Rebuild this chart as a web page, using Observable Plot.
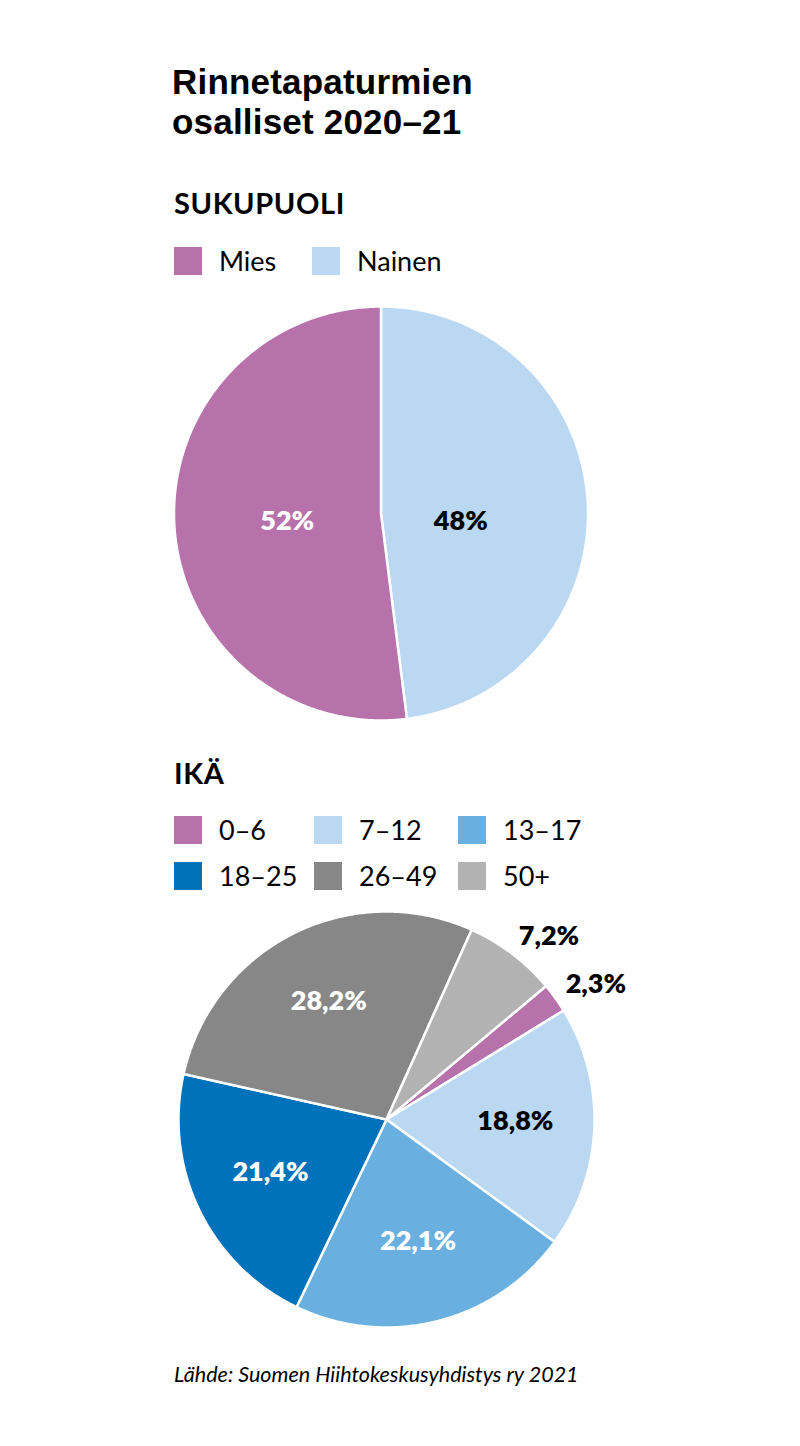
<!DOCTYPE html>
<html><head><meta charset="utf-8">
<script src="https://cdn.jsdelivr.net/npm/d3@7"></script>
<script src="https://cdn.jsdelivr.net/npm/@observablehq/plot@0.6"></script>
<style>
body{margin:0;background:#fff;font-family:Lato,"Open Sans",sans-serif;color:#000}
#root{position:relative;width:800px;height:1446px;overflow:hidden;background:#fff}
.abs{position:absolute;margin:0;white-space:nowrap}
.title{font-family:"Liberation Sans",Arial,sans-serif;font-size:35px;line-height:40px;height:40px;font-weight:700;left:172px;letter-spacing:0.2px}
h2.abs{font-size:29px;line-height:28px;font-weight:700;left:174px;letter-spacing:0.6px}
.item{display:flex;align-items:center;font-size:27px;line-height:28px;height:28px}
.sw{width:28px;height:28px;display:inline-block;margin-right:17px;flex:none}
.src{font-size:21.5px;line-height:24px;font-style:italic;left:174px;top:1362px}
</style></head>
<body><div id="root"></div>
<script>
// Sukupuoli (gender): slices drawn clockwise from 12 o'clock
const genderCats = ["Nainen", "Mies"];
const genderValues = [48, 52];
const genderLabels = ["48%", "52%"];
const genderColors = ["#bad8f1", "#b872ab"];
const genderLegend = ["Mies", "Nainen"];

// Ikä (age)
const ageCats = ["0–6", "7–12", "13–17", "18–25", "26–49", "50+"];
const ageValues = [2.3, 18.8, 22.1, 21.4, 28.2, 7.2];
const ageLabels = ["2,3%", "18,8%", "22,1%", "21,4%", "28,2%", "7,2%"];
const ageColors = ["#b872ab", "#bad8f1", "#69b0e1", "#0072bb", "#878787", "#b2b2b2"];
const ageLegend = ["0–6", "7–12", "13–17", "18–25", "26–49", "50+"];

const titleLines = ["Rinnetapaturmien", "osalliset 2020–21"];

const root = document.getElementById("root");
const lightInk = new Set(["#bad8f1"]);

function el(tag, cls, html, style) {
  const e = document.createElement(tag);
  e.className = cls; e.innerHTML = html;
  Object.assign(e.style, style || {});
  root.appendChild(e);
  return e;
}

titleLines.forEach((t, i) => el("div", "abs title", t, {top: (62 + i * 40) + "px"}));
el("h2", "abs", "SUKUPUOLI", {top: "189px"});
el("h2", "abs", "IKÄ", {top: "759px"});
el("div", "abs src", "Lähde: Suomen Hiihtokeskusyhdistys ry 2021");

function legend(cats, colorsFor, cols, top0, rowGap) {
  cats.forEach((c, i) => {
    const col = i % cols.length, row = Math.floor(i / cols.length);
    el("div", "abs item", `<span class="sw" style="background:${colorsFor(c)}"></span><span>${c}</span>`,
      {left: cols[col] + "px", top: (top0 + row * rowGap) + "px"});
  });
}
legend(genderLegend, c => genderColors[genderCats.indexOf(c)], [174, 312], 247, 46);
legend(ageLegend, c => ageColors[ageCats.indexOf(c)], [174, 314, 458], 816, 46);

function piePlot({cats, values, colors, labels, startDeg, cx, cy, r, top, height, inR, outR, outsideBelow, flat, dx, dy}) {
  const a0 = startDeg * Math.PI / 180;
  const arcs = d3.pie().sort(null).value(d => d).startAngle(a0).endAngle(a0 + 2 * Math.PI)(values);
  const pts = [];
  const labs = [];
  arcs.forEach((a, i) => {
    const key = cats[i];
    pts.push({key, x: 0, y: 0});
    const n = Math.max(2, Math.ceil((a.endAngle - a.startAngle) / (Math.PI / 360)));
    for (let k = 0; k <= n; k++) {
      const t = a.startAngle + (a.endAngle - a.startAngle) * k / n;
      pts.push({key, x: Math.sin(t), y: Math.cos(t)});
    }
    pts.push({key, x: 0, y: 0});
    const mid = (a.startAngle + a.endAngle) / 2;
    const outside = values[i] < outsideBelow;
    const rr = outside ? outR : inR;
    labs.push({text: labels[i], x: rr * Math.sin(mid), y: flat ? 0 : rr * Math.cos(mid), outside,
      ink: outside || lightInk.has(colors[i]) ? "#000" : "#fff"});
  });
  const textOpts = {x: "x", y: "y", text: "text", fontSize: 27, fontWeight: 800,
    fontFamily: "Lato, 'Open Sans', sans-serif", dx, dy};
  const svg = Plot.plot({
    width: 800, height, margin: 0,
    style: {background: "transparent", overflow: "visible"},
    x: {domain: [-1, 1], range: [cx - r, cx + r], axis: null},
    y: {domain: [-1, 1], range: [cy + r, cy - r], axis: null},
    color: {domain: cats, range: colors},
    marks: [
      Plot.line(pts, {x: "x", y: "y", z: "key", fill: "key", stroke: "#fff", strokeWidth: 2.5, strokeLinejoin: "round", curve: "linear"}),
      Plot.text(labs.filter(d => !d.outside && d.ink === "#fff"), {...textOpts, fill: "#fff"}),
      Plot.text(labs.filter(d => !d.outside && d.ink === "#000"), {...textOpts, fill: "#000"}),
      Plot.text(labs.filter(d => d.outside), {...textOpts, fill: "#000", textAnchor: "start", dx: -4})
    ]
  });
  svg.style.position = "absolute";
  svg.style.left = "0px";
  svg.style.top = top + "px";
  root.appendChild(svg);
}

piePlot({cats: genderCats, values: genderValues, colors: genderColors, labels: genderLabels,
  startDeg: 0, cx: 380.5, cy: 223, r: 207, top: 290, height: 450, inR: 0.42, outR: 1.1, outsideBelow: 10, flat: true, dx: -7, dy: 8});
piePlot({cats: ageCats, values: ageValues, colors: ageColors, labels: ageLabels,
  startDeg: 50.1, cx: 386, cy: 224, r: 208, top: 895, height: 450, inR: 0.62, outR: 1.085, outsideBelow: 10, flat: false, dx: 0, dy: -3});
</script>
</body></html>
